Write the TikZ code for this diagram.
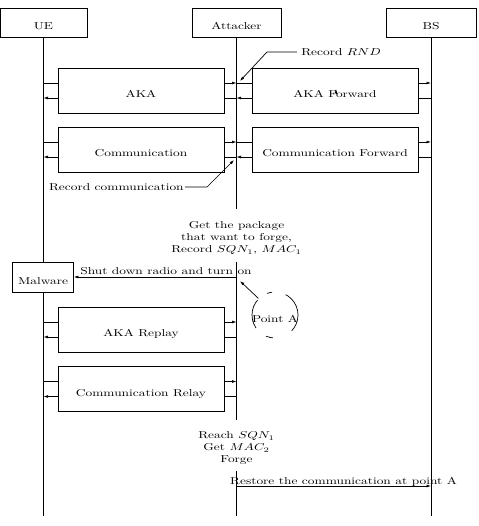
\documentclass[tikz,border=0pt]{standalone}
\usepackage{graphicx}
\usetikzlibrary{arrows.meta,calc}
\newcommand{\sx}[1]{\scalebox{1.34}[1]{#1}}
\begin{document}
\begin{tikzpicture}[x=1pt,y=-1pt,
  line width=0.7pt,
  arr/.style={-{Latex[length=4.5pt,width=3pt]}},
  box/.style={draw,rectangle,inner sep=0pt,text height=14pt,text depth=0pt,fill=white},
  head/.style={box,minimum height=29pt},
  msg/.style={box,minimum width=166pt,minimum height=45pt},
  lbl/.style={inner sep=0pt}]
\fill[white] (0,0) rectangle (478,526);
\useasboundingbox (0,0) rectangle (478,526);

% heads
\node[head,minimum width=87pt] (ue) at (43.5,22.5) {\sx{UE}};
\node[head,minimum width=89pt] (att) at (236.5,22.5) {\sx{Attacker}};
\node[head,minimum width=90pt] (bs) at (431,22.5) {\sx{BS}};

% lifelines
\coordinate (ueE) at (43.5,516);
\coordinate (a1) at (236.5,209);
\coordinate (a2) at (236.5,262);
\coordinate (a3) at (236.5,420);
\coordinate (a4) at (236.5,471);
\coordinate (a5) at (236.5,516);
\coordinate (bsE) at (431,516);
\draw (ue.south) -- (ueE);
\draw (att.south) -- (a1);
\draw (a2) -- (a3);
\draw (a4) -- (a5);
\draw (bs.south) -- (bsE);

% message boxes
\node[msg] (aka) at (141,90.5) {\sx{AKA}};
\node[msg] (akaf) at (335,90.5) {\sx{AKA Forward}};
\node[msg] (com) at (141,149.5) {\sx{Communication}};
\node[msg] (comf) at (335,149.5) {\sx{Communication Forward}};
\node[msg] (akar) at (141,329.5) {\sx{AKA Replay}};
\node[msg] (comr) at (141,389) {\sx{Communication Relay}};

\foreach \b in {aka,com,akar,comr}{
  \draw ([yshift=7.5pt]\b.west -| ue) -- ([yshift=7.5pt]\b.west);
  \draw[arr] ([yshift=7.5pt]\b.east) -- ([yshift=7.5pt]\b.east -| att);
  \draw[arr] ([yshift=-7.5pt]\b.west) -- ([yshift=-7.5pt]\b.west -| ue);
  \draw ([yshift=-7.5pt]\b.east -| att) -- ([yshift=-7.5pt]\b.east);
}
\foreach \b in {akaf,comf}{
  \draw ([yshift=7.5pt]\b.west -| att) -- ([yshift=7.5pt]\b.west);
  \draw[arr] ([yshift=7.5pt]\b.east) -- ([yshift=7.5pt]\b.east -| bs);
  \draw ([yshift=-7.5pt]\b.east -| bs) -- ([yshift=-7.5pt]\b.east);
  \draw[arr] ([yshift=-7.5pt]\b.west) -- ([yshift=-7.5pt]\b.west -| att);
}

% stray tiny arrow
\coordinate (tA) at (336,93);
\coordinate (tB) at (336,89);
\draw[arr] (tA) -- (tB);

% Record RND
\node[inner sep=4pt,anchor=west] (rnd) at (297,52) {\sx{Record $RND$}};
\coordinate (rndK) at (267,52);
\coordinate (rndT) at (240,81);
\draw[arr] (rnd.west) -- (rndK) -- (rndT);

% Record communication
\node[inner sep=1pt,anchor=east] (rc) at (185,187) {\sx{Record communication}};
\coordinate (rcK) at (207,187);
\coordinate (rcT) at (234,160);
\draw[arr] (rc.east) -- (rcK) -- (rcT);

% Get the package
\node[lbl] (get) at (236.5,238.5) {\sx{\begin{tabular}{@{}c@{}}Get the package\\that want to forge,\\Record $SQN_1$, $MAC_1$\end{tabular}}};

% Malware
\node[box,minimum width=61pt,minimum height=30pt] (mal) at (43,277) {\sx{Malware}};
\draw[arr] (att |- mal.east) -- (mal.east);
\node[lbl] (shut) at (166,271.5) {\sx{Shut down radio and turn on}};

% Point A
\node[draw,circle,inner sep=0pt,minimum size=46pt,
  dash pattern=on 42pt off 14pt on 5pt off 12pt on 30pt off 13pt on 7pt off 21pt,
  dash phase=17pt] (pa) at (275,315) {};
\node[lbl] (pat) at (275,319) {\sx{Point A}};
\coordinate (paT) at (240,281);
\draw[arr] (pa.135) -- (paT);

% Reach
\node[lbl] (reach) at (236.5,448.5) {\sx{\begin{tabular}{@{}c@{}}Reach $SQN_1$\\Get $MAC_2$\\Forge\end{tabular}}};

% Restore
\coordinate (rs) at (236.5,486);
\draw[arr] (rs) -- (rs -| bs);
\node[lbl] (rst) at (343.5,481.5) {\sx{Restore the communication at point A}};
\end{tikzpicture}
\end{document}
